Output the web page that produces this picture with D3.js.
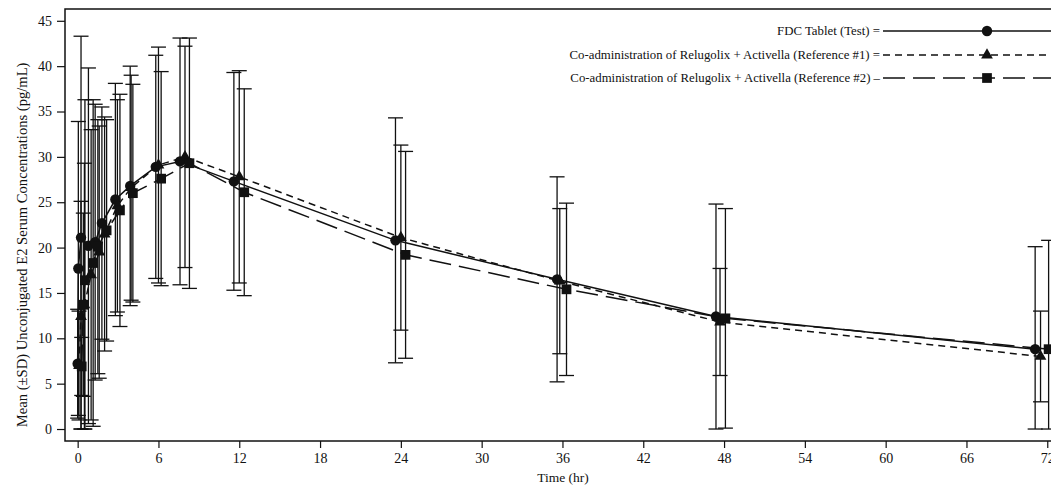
<!DOCTYPE html>
<html>
<head>
<meta charset="utf-8">
<script src="https://cdn.jsdelivr.net/npm/d3@7"></script>
<style>
body { margin: 0; background: #fff; }
svg { display: block; }
</style>
</head>
<body>
<div id="chart"></div>
<script>
// plotted times (hr) are offset a little per treatment, as in the original figure
const testHours = [0, 0.05, 0.25, 0.8, 1.3, 1.8, 2.8, 3.9, 5.8, 7.6, 11.6, 23.6, 35.6, 47.4, 71.1]
const testMean  = [7.2, 17.7, 21.1, 20.2, 20.6, 22.7, 25.3, 26.8, 28.9, 29.5, 27.3, 20.8, 16.5, 12.4, 8.8]
const testSD    = [6.0, 16.2, 22.2, 19.6, 15.2, 12.8, 12.8, 13.2, 12.3, 13.6, 12.0, 13.5, 11.3, 12.4, 11.3]

const ref1Hours = [0.1, 0.25, 0.5, 1.0, 1.6, 2.0, 2.95, 3.97, 6.0, 7.97, 12.0, 24.0, 35.8, 47.7, 71.5]
const ref1Mean  = [7.0, 12.4, 13.7, 17.0, 19.5, 21.5, 24.6, 26.6, 29.1, 30.0, 27.8, 21.1, 16.3, 11.8, 8.0]
const ref1SD    = [6.0, 12.7, 15.6, 16.0, 13.9, 12.9, 11.7, 12.4, 13.0, 12.2, 11.7, 10.2, 8.0, 5.9, 5.0]

const ref2Hours = [0.3, 0.42, 0.54, 1.15, 1.5, 2.15, 3.14, 4.1, 6.2, 8.3, 12.37, 24.35, 36.3, 48.1, 72.1]
const ref2Mean  = [6.9, 13.7, 16.4, 18.3, 20.1, 21.9, 24.1, 26.0, 27.6, 29.3, 26.1, 19.2, 15.4, 12.2, 8.8]
const ref2SD    = [3.2, 10.1, 19.9, 18.0, 14.0, 12.2, 12.8, 12.0, 11.8, 13.8, 11.4, 11.4, 9.5, 12.1, 12.0]

const seriesNames = [
    "FDC Tablet (Test) =",
    "Co-administration of Relugolix + Activella (Reference #1) =",
    "Co-administration of Relugolix + Activella (Reference #2) \u2013"
]
const xTicks = d3.range(0, 73, 6)
const yTicks = d3.range(0, 46, 5)

const serif = '"Liberation Serif", "Times New Roman", serif'
const sizing = { width: 1051, height: 490 }
const frame = { left: 65, top: 9, right: 1054, bot: 441 }

const svg = d3.select("#chart").append("svg")
    .attr("width", sizing.width)
    .attr("height", sizing.height)

const x = d3.scaleLinear().domain([-0.94, 72.5]).range([frame.left, frame.right])
const y = d3.scaleLinear().domain([-1.32, 46.3]).range([frame.bot, frame.top])

// frame
svg.append("rect")
    .attr("x", frame.left).attr("y", frame.top)
    .attr("width", frame.right - frame.left).attr("height", frame.bot - frame.top)
    .attr("fill", "none").attr("stroke", "#111").attr("stroke-width", 1.5)

// axes
const yGroup = svg.append("g").attr("transform", `translate(${frame.left},0)`)
yGroup.call(d3.axisLeft(y).tickValues(d3.range(0, 46, 1)).tickSize(4).tickFormat(""))
yGroup.call(d3.axisLeft(y).tickValues(yTicks).tickSize(8).tickPadding(5))
yGroup.selectAll(".domain").remove()

const xGroup = svg.append("g").attr("transform", `translate(0,${frame.bot})`)
xGroup.call(d3.axisBottom(x).tickValues(d3.range(0, 72.01, 1.2)).tickSize(4).tickFormat(""))
xGroup.call(d3.axisBottom(x).tickValues(xTicks).tickSize(7).tickPadding(5))
xGroup.selectAll(".domain").remove()

svg.selectAll(".tick line").attr("stroke", "#111").attr("stroke-width", 1.2)
svg.selectAll(".tick text")
    .style("font-family", serif).style("font-size", "14px").attr("fill", "#111")

svg.append("text")
    .attr("x", (frame.left + 1051) / 2 + 5).attr("y", 482)
    .attr("text-anchor", "middle")
    .style("font-family", serif).style("font-size", "13.5px").attr("fill", "#111")
    .text("Time (hr)")

svg.append("text")
    .attr("transform", `translate(27,${y(20.3)}) rotate(-90)`)
    .attr("text-anchor", "middle")
    .style("font-family", serif).style("font-size", "14.6px").attr("fill", "#111")
    .text("Mean (\u00b1SD) Unconjugated E2 Serum Concentrations (pg/mL)")

const series = [
    { hours: testHours, mean: testMean, sd: testSD, dash: null, mark: "circle" },
    { hours: ref1Hours, mean: ref1Mean, sd: ref1SD, dash: "7,5", mark: "triangle" },
    { hours: ref2Hours, mean: ref2Mean, sd: ref2SD, dash: "22,8", mark: "square" }
]
series.forEach(s => {
    s.points = s.hours.map((h, i) => ({ h: h, m: s.mean[i], sd: s.sd[i] }))
})

const symbolOf = {
    circle: d3.symbol().type(d3.symbolCircle).size(85),
    triangle: d3.symbol().type(d3.symbolTriangle).size(60),
    square: d3.symbol().type(d3.symbolSquare).size(95)
}

const plot = svg.append("g")
const capHalf = 7.5

// error bars
series.forEach(s => {
    const bars = plot.append("g").attr("stroke", "#111").attr("stroke-width", 1.3)
    s.points.forEach(p => {
        const lo = y(Math.max(0, p.m - p.sd)), hi = y(p.m + p.sd), cx = x(p.h)
        bars.append("line").attr("x1", cx).attr("x2", cx).attr("y1", lo).attr("y2", hi)
        bars.append("line").attr("x1", cx - capHalf).attr("x2", cx + capHalf).attr("y1", hi).attr("y2", hi)
        bars.append("line").attr("x1", cx - capHalf).attr("x2", cx + capHalf).attr("y1", lo).attr("y2", lo)
    })
})

const line = d3.line().x(d => x(d.h)).y(d => y(d.m))

series.forEach(s => {
    plot.append("path").datum(s.points)
        .attr("d", line)
        .attr("fill", "none").attr("stroke", "#111").attr("stroke-width", 1.5)
        .attr("stroke-dasharray", s.dash)
    plot.append("g").selectAll("path")
        .data(s.points)
        .join("path")
        .attr("d", symbolOf[s.mark])
        .attr("transform", d => `translate(${x(d.h)},${y(d.m)})`)
        .attr("fill", "#111")
})

// legend
const legend = svg.append("g")
const legendRows = [31, 55, 78]
series.forEach((s, i) => {
    const ly = legendRows[i]
    legend.append("text")
        .attr("x", 880).attr("y", ly).attr("dy", "0.35em")
        .attr("text-anchor", "end")
        .style("font-family", serif).style("font-size", "12.8px").attr("fill", "#111")
        .text(seriesNames[i])
    legend.append("line")
        .attr("x1", 883).attr("x2", 1095).attr("y1", ly).attr("y2", ly)
        .attr("stroke", "#111").attr("stroke-width", 1.5)
        .attr("stroke-dasharray", s.dash)
    legend.append("path")
        .attr("d", symbolOf[s.mark])
        .attr("transform", `translate(987,${ly})`)
        .attr("fill", "#111")
})
</script>
</body>
</html>
